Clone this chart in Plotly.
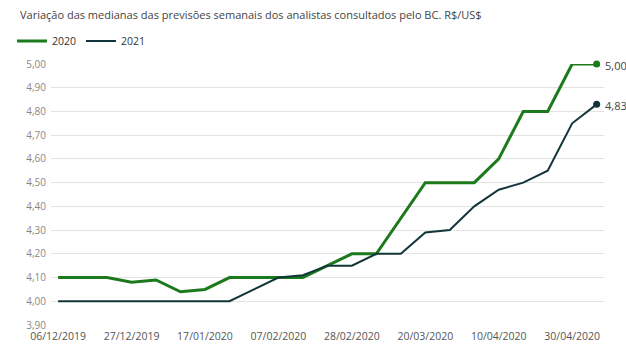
import plotly.graph_objects as go

dates = ["06/12/2019", "13/12/2019", "20/12/2019", "27/12/2019", "03/01/2020", "10/01/2020",
         "17/01/2020", "24/01/2020", "31/01/2020", "07/02/2020", "14/02/2020", "21/02/2020",
         "28/02/2020", "06/03/2020", "13/03/2020", "20/03/2020", "27/03/2020", "03/04/2020",
         "10/04/2020", "17/04/2020", "24/04/2020", "30/04/2020", "08/05/2020"]
s2020 = [4.10, 4.10, 4.10, 4.08, 4.09, 4.04, 4.05, 4.10, 4.10, 4.10, 4.10, 4.15,
         4.20, 4.20, 4.35, 4.50, 4.50, 4.50, 4.60, 4.80, 4.80, 5.00, 5.00]
s2021 = [4.00, 4.00, 4.00, 4.00, 4.00, 4.00, 4.00, 4.00, 4.05, 4.10, 4.11, 4.15,
         4.15, 4.20, 4.20, 4.29, 4.30, 4.40, 4.47, 4.50, 4.55, 4.75, 4.83]
tick_labels = ["06/12/2019", "27/12/2019", "17/01/2020", "07/02/2020",
               "28/02/2020", "20/03/2020", "10/04/2020", "30/04/2020"]
yticks = [3.9, 4.0, 4.1, 4.2, 4.3, 4.4, 4.5, 4.6, 4.7, 4.8, 4.9, 5.0]

GREEN = "#1c7a1c"
DARK = "#12353a"
x = list(range(len(dates)))
tickvals = [dates.index(d) for d in tick_labels]

fig = go.Figure()
fig.add_trace(go.Scatter(x=x, y=s2020, name="2020", mode="lines",
                         line=dict(color=GREEN, width=3), cliponaxis=False,
                         hovertext=dates))
fig.add_trace(go.Scatter(x=x, y=s2021, name="2021", mode="lines",
                         line=dict(color=DARK, width=2), cliponaxis=False,
                         hovertext=dates))
# end markers
fig.add_trace(go.Scatter(x=[x[-1]], y=[s2020[-1]], mode="markers", showlegend=False,
                         marker=dict(color=GREEN, size=7), cliponaxis=False))
fig.add_trace(go.Scatter(x=[x[-1]], y=[s2021[-1]], mode="markers", showlegend=False,
                         marker=dict(color=DARK, size=7), cliponaxis=False))

for val in (s2020[-1], s2021[-1]):
    fig.add_annotation(x=x[-1], y=val, text=f"{val:.2f}".replace(".", ","),
                       showarrow=False, xanchor="left", xshift=6, yshift=-1,
                       font=dict(family="Open Sans", size=11, color="#444"))

fig.update_layout(
    width=626, height=350,
    margin=dict(l=51, r=22, t=64, b=25, autoexpand=False),
    paper_bgcolor="white", plot_bgcolor="white",
    separators=",.",
    title=dict(text="Variação das medianas das previsões semanais dos analistas consultados pelo BC. R$/US$",
               x=20 / 626, xref="container", xanchor="left",
               y=1 - 15 / 350, yref="container", yanchor="middle",
               font=dict(family="Open Sans", size=11, color="#444")),
    legend=dict(orientation="h", xref="container", x=12 / 626, xanchor="left",
                yref="container", y=1 - 41 / 350, yanchor="middle",
                font=dict(family="Open Sans", size=10.5, color="#333"),
                itemwidth=30, tracegroupgap=0, bgcolor="rgba(0,0,0,0)"),
    font=dict(family="Open Sans"),
    showlegend=True,
)
fig.update_xaxes(range=[-0.29, 22.3], tickvals=tickvals, ticktext=tick_labels,
                 showgrid=False, zeroline=False, showline=False,
                 tickfont=dict(family="Open Sans", size=10.5, color="#555"), ticks="",
                 ticklabelstandoff=3)
fig.update_yaxes(range=[3.9, 5.0], tickvals=yticks, tickformat=".2f",
                 showgrid=True, gridcolor="#e3e3e3", gridwidth=1, zeroline=False,
                 tickfont=dict(family="Open Sans", size=10, color="#888"), ticks="",
                 ticklabelstandoff=4)

fig.write_html("out.html")
